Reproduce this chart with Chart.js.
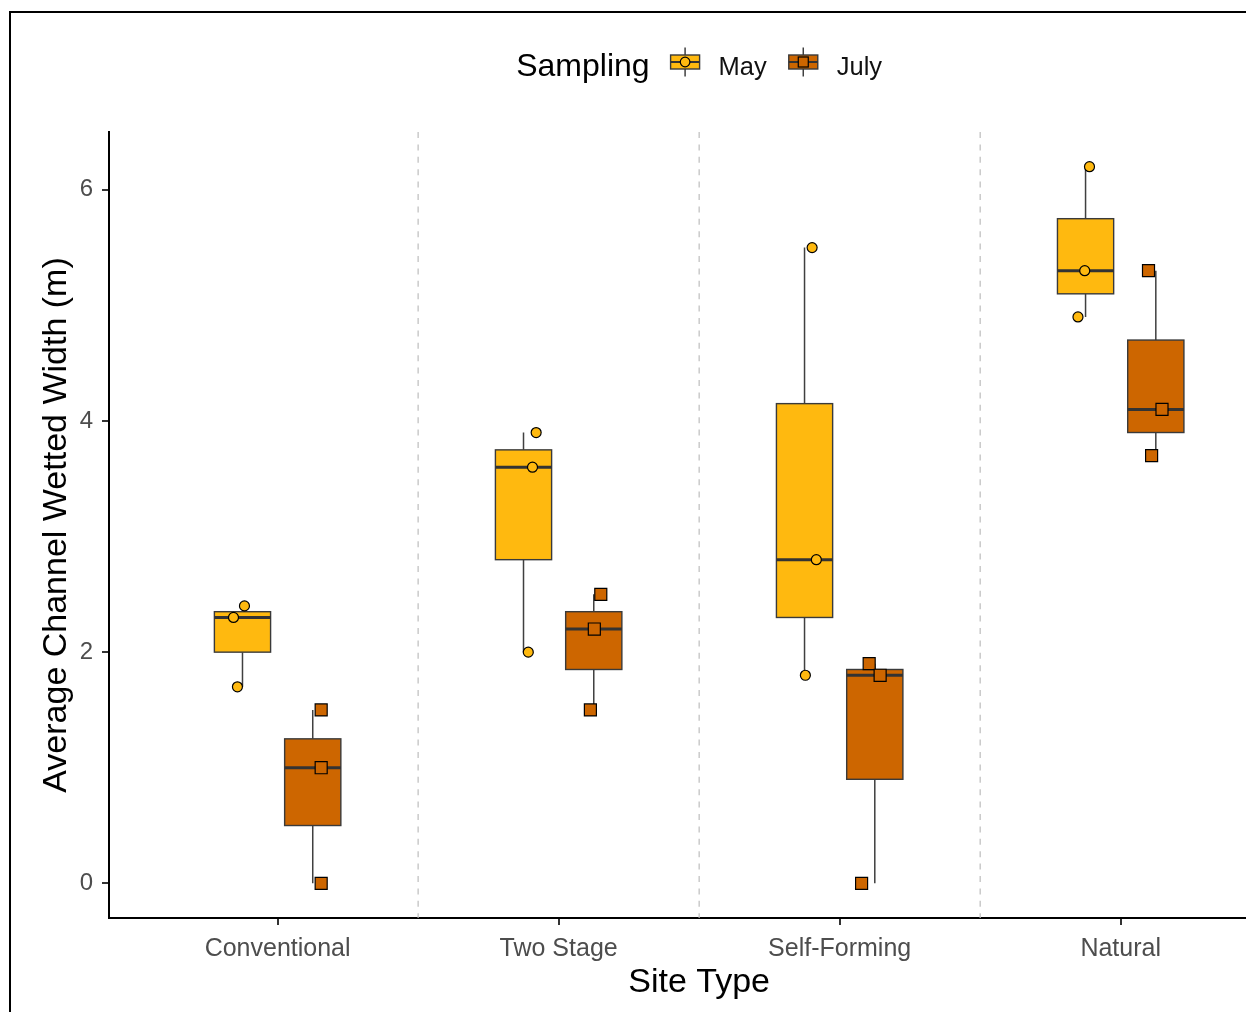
<!DOCTYPE html>
<html>
<head>
<meta charset="utf-8">
<title>Average Channel Wetted Width by Site Type</title>
<script src="https://cdn.jsdelivr.net/npm/chart.js@4.4.1/dist/chart.umd.min.js"></script>
<style>
  html, body { margin: 0; padding: 0; background: #fff; overflow: hidden; width: 1246px; height: 1012px; }
  #wrap { position: relative; width: 1246px; height: 1012px; overflow: hidden; }
  #wrap canvas { position: absolute; left: 0; top: 0; }
  #frame { position: absolute; left: 9px; top: 11px; width: 1400px; height: 1100px;
           border-left: 2px solid #000; border-top: 2px solid #000; pointer-events: none; }
</style>
</head>
<body>
<div id="wrap">
  <canvas id="chart" width="1299" height="1012"></canvas>
  <div id="frame"></div>
</div>
<script>
// ---- data -------------------------------------------------------------
const siteTypes = ['Conventional', 'Two Stage', 'Self-Forming', 'Natural'];
const samplings = ['May', 'July'];

// wetted width (m), three reaches per site type
const mayWidth  = [[2.4, 2.3, 1.7], [3.9, 3.6, 2.0], [5.5, 2.8, 1.8], [6.2, 5.3, 4.9]];
const julyWidth = [[1.5, 1.0, 0.0], [2.5, 2.2, 1.5], [1.9, 1.8, 0.0], [5.3, 4.1, 3.7]];

// horizontal jitter of the individual points (category units)
const mayJitter  = [[0.007, -0.032, -0.018], [0.045, 0.032, 0.017], [0.027, 0.042, 0.003], [0.014, -0.003, -0.027]];
const julyJitter = [[0.030, 0.030, 0.030], [0.025, 0.002, -0.012], [-0.020, 0.019, -0.047], [-0.026, 0.022, -0.015]];

const yTicks = [0, 2, 4, 6];

// ---- styling ----------------------------------------------------------
const FONT = '"Liberation Sans", Arial, Helvetica, sans-serif';
const MAY_FILL = '#FFB90F';
const JULY_FILL = '#CD6600';
const DODGE = 0.125;     // half distance between May and July boxes
const BOX_W = 0.2;       // box width in category units

Chart.defaults.font.family = FONT;

const seriesInfo = [
  { name: samplings[0], values: mayWidth,  jitter: mayJitter,  fill: MAY_FILL,  shift: -DODGE, style: 'circle', radius: 5 },
  { name: samplings[1], values: julyWidth, jitter: julyJitter, fill: JULY_FILL, shift:  DODGE, style: 'rect',   radius: 8.5 }
];

function quantile(sorted, p) {
  const h = (sorted.length - 1) * p;
  const lo = Math.floor(h);
  const hi = Math.min(lo + 1, sorted.length - 1);
  return sorted[lo] + (h - lo) * (sorted[hi] - sorted[lo]);
}

function boxStats(values) {
  const s = values.slice().sort((a, b) => a - b);
  const q1 = quantile(s, 0.25), med = quantile(s, 0.5), q3 = quantile(s, 0.75);
  const iqr = q3 - q1;
  const lowWhisker = Math.min(...s.filter(v => v >= q1 - 1.5 * iqr));
  const highWhisker = Math.max(...s.filter(v => v <= q3 + 1.5 * iqr));
  return { q1, med, q3, lowWhisker, highWhisker };
}

// one box per site type and sampling
const boxes = [];
seriesInfo.forEach(sr => {
  sr.values.forEach((vals, i) => {
    boxes.push({ center: i + 1 + sr.shift, fill: sr.fill, stats: boxStats(vals) });
  });
});

// jittered raw observations
const datasets = seriesInfo.map(sr => ({
  label: sr.name,
  data: sr.values.flatMap((vals, i) => vals.map((v, k) => ({ x: i + 1 + sr.shift + sr.jitter[i][k], y: v }))),
  backgroundColor: sr.fill,
  borderColor: '#000',
  borderWidth: 1.2,
  pointStyle: sr.style,
  pointRadius: sr.radius,
  pointHoverRadius: sr.radius,
  showLine: false
}));

// separators between site types, boxes and whiskers (drawn under the points)
const boxPlugin = {
  id: 'boxes',
  beforeDatasetsDraw(chart) {
    const { ctx, chartArea, scales: { x, y } } = chart;
    ctx.save();
    ctx.strokeStyle = '#BDBDBD';
    ctx.lineWidth = 1.2;
    ctx.setLineDash([6, 6.4]);
    for (let i = 1; i < siteTypes.length; i++) {
      const px = x.getPixelForValue(i + 0.5);
      ctx.beginPath();
      ctx.moveTo(px, chartArea.top);
      ctx.lineTo(px, chartArea.bottom);
      ctx.stroke();
    }
    ctx.setLineDash([]);

    boxes.forEach(b => {
      const st = b.stats;
      const cx = x.getPixelForValue(b.center);
      const x0 = x.getPixelForValue(b.center - BOX_W / 2);
      const x1 = x.getPixelForValue(b.center + BOX_W / 2);
      const yq1 = y.getPixelForValue(st.q1), yq3 = y.getPixelForValue(st.q3);
      // whiskers
      ctx.strokeStyle = '#404040';
      ctx.lineWidth = 1.5;
      ctx.beginPath();
      ctx.moveTo(cx, yq3); ctx.lineTo(cx, y.getPixelForValue(st.highWhisker));
      ctx.moveTo(cx, yq1); ctx.lineTo(cx, y.getPixelForValue(st.lowWhisker));
      ctx.stroke();
      // box
      ctx.fillStyle = b.fill;
      ctx.fillRect(x0, yq3, x1 - x0, yq1 - yq3);
      ctx.strokeStyle = '#3a3a3a';
      ctx.lineWidth = 1.4;
      ctx.strokeRect(x0, yq3, x1 - x0, yq1 - yq3);
      // median
      const ym = y.getPixelForValue(st.med);
      ctx.strokeStyle = '#333333';
      ctx.lineWidth = 3;
      ctx.beginPath();
      ctx.moveTo(x0, ym); ctx.lineTo(x1, ym);
      ctx.stroke();
    });
    ctx.restore();
  }
};

// "Sampling" legend above the panel with boxplot keys
const legendPlugin = {
  id: 'samplingLegend',
  afterDraw(chart) {
    const { ctx, chartArea } = chart;
    const titleFont = '32px ' + FONT;
    const labelFont = '25.5px ' + FONT;
    const keyW = 29, gapTitle = 21, gapKey = 19, gapItem = 22;
    const cy = 62;
    ctx.save();
    ctx.font = titleFont;
    const titleW = ctx.measureText('Sampling').width;
    ctx.font = labelFont;
    const labelW = seriesInfo.map(s => ctx.measureText(s.name).width);
    let total = titleW;
    labelW.forEach((w, i) => { total += (i === 0 ? gapTitle : gapItem) + keyW + gapKey + w; });
    let xPos = (chartArea.left + chartArea.right) / 2 - total / 2;

    ctx.fillStyle = '#000';
    ctx.textBaseline = 'alphabetic';
    ctx.textAlign = 'left';
    ctx.font = titleFont;
    ctx.fillText('Sampling', xPos, 76);
    xPos += titleW;

    seriesInfo.forEach((s, i) => {
      xPos += (i === 0 ? gapTitle : gapItem);
      const kx = xPos, kc = kx + keyW / 2;
      // whisker
      ctx.strokeStyle = '#404040';
      ctx.lineWidth = 1.5;
      ctx.beginPath();
      ctx.moveTo(kc, cy - 14.5); ctx.lineTo(kc, cy + 14.5);
      ctx.stroke();
      // box
      ctx.fillStyle = s.fill;
      ctx.fillRect(kx, cy - 7, keyW, 14);
      ctx.strokeStyle = '#3a3a3a';
      ctx.lineWidth = 1.4;
      ctx.strokeRect(kx, cy - 7, keyW, 14);
      ctx.strokeStyle = '#333';
      ctx.lineWidth = 2;
      ctx.beginPath();
      ctx.moveTo(kx, cy); ctx.lineTo(kx + keyW, cy);
      ctx.stroke();
      // point symbol
      ctx.fillStyle = s.fill;
      ctx.strokeStyle = '#000';
      ctx.lineWidth = 1.2;
      if (s.style === 'circle') {
        ctx.beginPath();
        ctx.arc(kc, cy, 4.8, 0, Math.PI * 2);
        ctx.fill(); ctx.stroke();
      } else {
        ctx.fillRect(kc - 5, cy - 5, 10, 10);
        ctx.strokeRect(kc - 5, cy - 5, 10, 10);
      }
      xPos += keyW + gapKey;
      ctx.fillStyle = '#111';
      ctx.font = labelFont;
      ctx.fillText(s.name, xPos, 75);
      xPos += labelW[i];
    });
    ctx.restore();
  }
};

new Chart(document.getElementById('chart'), {
  type: 'scatter',
  data: { datasets },
  plugins: [boxPlugin, legendPlugin],
  options: {
    responsive: false,
    animation: false,
    devicePixelRatio: 1,
    events: [],
    layout: { padding: { top: 132, left: 0, right: 0, bottom: 0 } },
    plugins: { legend: { display: false }, tooltip: { enabled: false } },
    scales: {
      x: {
        type: 'linear',
        min: 0.4,
        max: siteTypes.length + 0.6,
        afterFit(scale) { scale.height = 94; },
        afterBuildTicks(scale) { scale.ticks = siteTypes.map((_, i) => ({ value: i + 1 })); },
        ticks: {
          callback: v => siteTypes[Math.round(v) - 1],
          font: { size: 25 },
          color: '#4D4D4D',
          padding: 9,
          maxRotation: 0,
          autoSkip: false
        },
        grid: { drawOnChartArea: false, drawTicks: true, tickLength: 7, color: '#333', lineWidth: 2 },
        border: { display: true, color: '#000', width: 2 },
        title: { display: true, text: 'Site Type', font: { size: 34 }, color: '#000', padding: { top: 0, bottom: 9 } }
      },
      y: {
        type: 'linear',
        min: -0.3,
        max: 6.5,
        afterFit(scale) { scale.width = 109; },
        afterBuildTicks(scale) { scale.ticks = yTicks.map(v => ({ value: v })); },
        ticks: { font: { size: 24 }, color: '#4D4D4D', padding: 9 },
        grid: { drawOnChartArea: false, drawTicks: true, tickLength: 7, color: '#333', lineWidth: 2 },
        border: { display: true, color: '#000', width: 2 },
        title: { display: true, text: 'Average Channel Wetted Width (m)', font: { size: 34 }, color: '#000', padding: { top: 36, bottom: 0 } }
      }
    }
  }
});
</script>
</body>
</html>
